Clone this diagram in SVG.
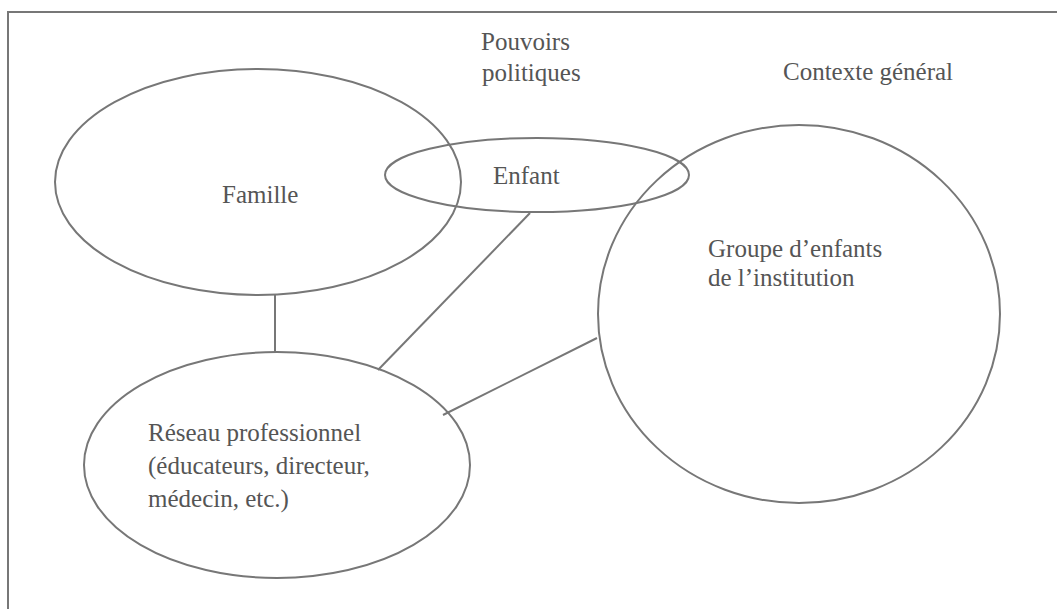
<svg xmlns="http://www.w3.org/2000/svg" width="1057" height="609" viewBox="0 0 1057 609">
<style>
.shape{fill:none;stroke:#777;stroke-width:2}
.lbl{font-family:"Liberation Serif","Times New Roman",serif;font-size:25px;fill:#555}
.frame{fill:none;stroke:#777;stroke-width:2}
</style>
<rect width="1057" height="609" fill="#fff"/>
<path class="frame" d="M8,609 V12 H1057"/>
<g id="context">
<text class="lbl" x="783" y="80" font-size="27">Contexte général</text>
</g>
<g id="pouvoirs">
<text class="lbl" x="481" y="50" font-size="26">Pouvoirs</text>
<text class="lbl" x="482" y="81" font-size="26">politiques</text>
</g>
<g id="connectors">
<line class="shape" x1="275" y1="295" x2="275" y2="352"/>
<line class="shape" x1="530" y1="213" x2="378" y2="370"/>
<line class="shape" x1="597" y1="338" x2="443" y2="415"/>
</g>
<g id="famille">
<ellipse class="shape" cx="258" cy="182" rx="203" ry="113"/>
<text class="lbl" x="222" y="203">Famille</text>
</g>
<g id="enfant">
<ellipse class="shape" cx="537" cy="175" rx="152" ry="37"/>
<text class="lbl" x="493" y="184" font-size="26">Enfant</text>
</g>
<g id="groupe">
<ellipse class="shape" cx="799" cy="314" rx="201" ry="189"/>
<text class="lbl" x="708" y="257">Groupe d’enfants</text>
<text class="lbl" x="708" y="286">de l’institution</text>
</g>
<g id="reseau">
<ellipse class="shape" cx="277" cy="465" rx="193" ry="113"/>
<text class="lbl" x="148" y="441" font-size="23.5">Réseau professionnel</text>
<text class="lbl" x="148" y="474" font-size="23.5">(éducateurs, directeur,</text>
<text class="lbl" x="148" y="507" font-size="23.5">médecin, etc.)</text>
</g>
</svg>
